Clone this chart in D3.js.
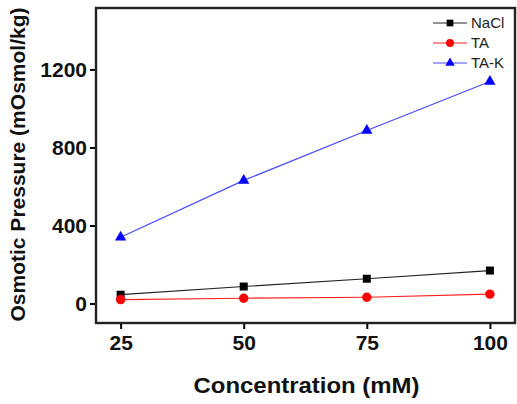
<!DOCTYPE html>
<html>
<head>
<meta charset="utf-8">
<script src="https://cdn.jsdelivr.net/npm/d3@7"></script>
<style>
  body { margin: 0; background: #fff; }
  text { font-family: "Liberation Sans", Arial, sans-serif; }
</style>
</head>
<body>
<div id="chart"></div>
<script>
// values
const concentrations = [25, 50, 75, 100];
const nacl = [45, 87, 127, 169];
const ta = [20, 27, 32, 48];
const tak = [340, 631, 887, 1138];
const xTicks = [25, 50, 75, 100];
const yTicks = [0, 400, 800, 1200];
const seriesNames = ['NaCl', 'TA', 'TA-K'];

const width = 517;
const height = 404;
const margin = { top: 8, right: 1, bottom: 81, left: 96 };

const svg = d3.select('#chart').append('svg')
  .attr('width', width)
  .attr('height', height);

const x = d3.scaleLinear()
  .domain([20, 105.3])
  .range([margin.left, width - margin.right]);

const y = d3.scaleLinear()
  .domain([-100, 1515])
  .range([height - margin.bottom, margin.top]);

const series = [
  { name: seriesNames[0], values: nacl, color: '#000000', line: '#222222', symbol: d3.symbolSquare, size: 64 },
  { name: seriesNames[1], values: ta, color: '#ff0000', line: '#ff2020', symbol: d3.symbolCircle, size: 70 },
  { name: seriesNames[2], values: tak, color: '#0000ff', line: '#4a4aff', symbol: d3.symbolTriangle, size: 55 },
];

// axes
svg.append('g')
  .attr('transform', `translate(0,${height - margin.bottom})`)
  .call(d3.axisBottom(x).tickValues(xTicks).tickFormat(d3.format('d'))
    .tickSize(6).tickSizeOuter(0).tickPadding(6))
  .call(g => g.select('.domain').remove())
  .call(g => g.selectAll('line').attr('stroke-width', 2))
  .call(g => g.selectAll('text')
    .attr('font-size', 21).attr('font-weight', 'bold').attr('fill', '#111'));

svg.append('g')
  .attr('transform', `translate(${margin.left},0)`)
  .call(d3.axisLeft(y).tickValues(yTicks).tickFormat(d3.format('d'))
    .tickSize(6).tickSizeOuter(0).tickPadding(3))
  .call(g => g.select('.domain').remove())
  .call(g => g.selectAll('line').attr('stroke-width', 2))
  .call(g => g.selectAll('text')
    .attr('font-size', 21).attr('font-weight', 'bold').attr('fill', '#111'));

// frame
svg.append('rect')
  .attr('x', margin.left)
  .attr('y', margin.top)
  .attr('width', width - margin.left - margin.right - 1)
  .attr('height', height - margin.top - margin.bottom)
  .attr('fill', 'none')
  .attr('stroke', '#222')
  .attr('stroke-width', 2.4);

// lines and markers
const line = d3.line()
  .x((d, i) => x(concentrations[i]))
  .y(d => y(d));

series.forEach(s => {
  svg.append('path')
    .datum(s.values)
    .attr('fill', 'none')
    .attr('stroke', s.line)
    .attr('stroke-width', 1.2)
    .attr('d', line);

  svg.selectAll(null)
    .data(s.values)
    .enter()
    .append('path')
    .attr('d', d3.symbol().type(s.symbol).size(s.size))
    .attr('transform', (d, i) => `translate(${x(concentrations[i])},${y(d)})`)
    .attr('fill', s.color);
});

// legend
const legend = svg.append('g').attr('transform', 'translate(433,23)');
series.forEach((s, i) => {
  const row = legend.append('g').attr('transform', `translate(0,${i * 20})`);
  row.append('line')
    .attr('x1', 0).attr('x2', 34)
    .attr('stroke', s.line).attr('stroke-width', 1.2);
  row.append('path')
    .attr('d', d3.symbol().type(s.symbol).size(s.size * 0.7))
    .attr('transform', 'translate(17,0)')
    .attr('fill', s.color);
  row.append('text')
    .attr('x', 38).attr('y', 5)
    .attr('font-size', 15)
    .attr('fill', '#222')
    .text(s.name);
});

// axis titles
svg.append('text')
  .attr('x', (margin.left + width) / 2)
  .attr('y', 393)
  .attr('text-anchor', 'middle')
  .attr('font-size', 22)
  .attr('font-weight', 'bold')
  .attr('fill', '#111')
  .attr('textLength', 226)
  .attr('lengthAdjust', 'spacingAndGlyphs')
  .text('Concentration (mM)');

svg.append('text')
  .attr('transform', `translate(25,${(margin.top + height - margin.bottom) / 2 - 1}) rotate(-90)`)
  .attr('text-anchor', 'middle')
  .attr('font-size', 20)
  .attr('font-weight', 'bold')
  .attr('fill', '#111')
  .attr('textLength', 314)
  .attr('lengthAdjust', 'spacingAndGlyphs')
  .text('Osmotic Pressure (mOsmol/kg)');
</script>
</body>
</html>
